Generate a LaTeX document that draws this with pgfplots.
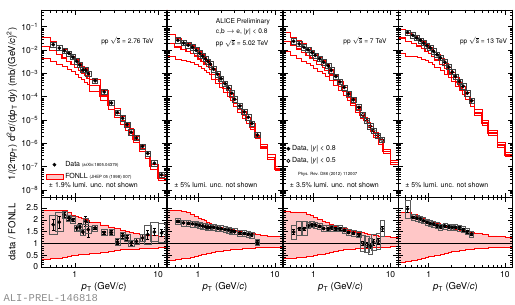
\documentclass[border=0pt]{standalone}
\usepackage{fontspec}
\setmainfont{TeX Gyre Heros}
\setmonofont{Liberation Mono}
\usepackage{pgfplots}
\usepackage{pgfplotstable}
\pgfplotsset{compat=1.18}

\newcommand\fsT{\fontsize{8.5}{9}\selectfont}
\newcommand\fsS{\fontsize{7}{8}\selectfont}
\newcommand\fsX{\fontsize{4.3}{5}\selectfont}
\newcommand\fsP{\fontsize{6.6}{7.5}\selectfont}
\newcommand\rs{$\sqrt{\mbox{s}}$}

% ---------- FONLL (left bin edge, central, upper/central, lower/central)
\pgfplotstableread{
x c u l
0.4 1.41e-2 2.40 0.33
0.5 9.5e-3 2.40 0.35
0.6 6.5e-3 2.40 0.38
0.7 4.6e-3 2.40 0.42
0.8 3.3e-3 2.30 0.45
0.9 2.45e-3 2.20 0.48
1.0 1.82e-3 2.15 0.51
1.1 1.35e-3 2.10 0.52
1.2 1.02e-3 2.05 0.54
1.3 7.9e-4 2.00 0.55
1.4 6.2e-4 1.97 0.56
1.5 3.0e-4 1.88 0.60
2.0 1.07e-4 1.78 0.64
2.5 4.3e-5 1.70 0.68
3.0 1.9e-5 1.62 0.71
3.5 9.5e-6 1.55 0.73
4.0 5.1e-6 1.50 0.75
4.5 2.95e-6 1.46 0.76
5.0 1.45e-6 1.42 0.77
6.0 6.0e-7 1.38 0.79
7.0 2.8e-7 1.35 0.80
8.0 1.0e-7 1.33 0.81
10.0 3.2e-8 1.30 0.83
12.6 3.2e-8 1.30 0.83
}\fonA
\pgfplotstableread{
x c u l
0.4 1.91e-2 2.42 0.28
0.5 1.35e-2 2.40 0.31
0.6 1.07e-2 2.36 0.35
0.7 8.7e-3 2.30 0.39
0.8 7.1e-3 2.22 0.43
0.9 5.5e-3 2.14 0.46
1.0 4.17e-3 2.07 0.49
1.1 3.24e-3 2.01 0.52
1.2 2.51e-3 1.96 0.55
1.3 1.95e-3 1.91 0.57
1.4 1.48e-3 1.87 0.59
1.5 9.1e-4 1.81 0.62
1.7 5.6e-4 1.75 0.65
1.9 3.6e-4 1.70 0.68
2.1 2.29e-4 1.65 0.70
2.4 1.48e-4 1.61 0.72
2.6 9.3e-5 1.58 0.74
2.9 5.2e-5 1.55 0.76
3.25 2.8e-5 1.51 0.77
3.75 1.58e-5 1.47 0.79
4.25 9.5e-6 1.44 0.80
4.75 5.0e-6 1.41 0.81
5.5 2.1e-6 1.37 0.82
6.5 7.1e-7 1.34 0.83
8.0 2.5e-7 1.31 0.84
10.0 7.9e-8 1.29 0.85
12.6 7.9e-8 1.29 0.85
}\fonB
\pgfplotstableread{
x c u l
0.4 2.40e-2 2.35 0.38
0.5 1.58e-2 2.33 0.39
0.6 1.12e-2 2.32 0.40
0.7 8.1e-3 2.30 0.42
0.8 6.0e-3 2.24 0.44
0.9 4.57e-3 2.17 0.47
1.0 3.47e-3 2.10 0.49
1.1 2.40e-3 2.02 0.52
1.3 1.82e-3 1.95 0.55
1.4 1.32e-3 1.88 0.58
1.6 8.5e-4 1.81 0.62
1.8 4.9e-4 1.74 0.66
2.1 2.75e-4 1.68 0.70
2.4 1.62e-4 1.62 0.73
2.7 9.8e-5 1.57 0.75
3.0 5.4e-5 1.52 0.77
3.5 2.7e-5 1.48 0.78
4.0 1.55e-5 1.45 0.79
4.5 9.5e-6 1.42 0.80
5.0 6.0e-6 1.40 0.81
5.5 3.9e-6 1.38 0.82
6.0 2.24e-6 1.35 0.83
7.0 1.12e-6 1.32 0.84
8.0 4.5e-7 1.29 0.85
10.0 1.51e-7 1.26 0.86
12.6 1.51e-7 1.26 0.86
}\fonC
\pgfplotstableread{
x c u l
0.4 3.24e-2 2.30 0.22
0.5 2.34e-2 2.30 0.24
0.6 1.91e-2 2.22 0.28
0.7 1.48e-2 2.15 0.32
0.8 1.15e-2 2.08 0.36
0.9 8.9e-3 2.02 0.40
1.0 6.9e-3 1.97 0.44
1.1 5.2e-3 1.93 0.47
1.2 3.7e-3 1.87 0.51
1.4 2.40e-3 1.80 0.55
1.6 1.58e-3 1.74 0.59
1.8 1.05e-3 1.69 0.62
2.0 6.8e-4 1.65 0.65
2.25 4.3e-4 1.60 0.68
2.5 2.75e-4 1.57 0.70
2.75 1.82e-4 1.54 0.72
3.0 1.05e-4 1.50 0.74
3.5 5.0e-5 1.46 0.76
4.0 2.0e-5 1.42 0.78
5.0 7.4e-6 1.37 0.80
6.0 2.8e-6 1.32 0.82
8.0 8.5e-7 1.28 0.84
10.0 3.2e-7 1.25 0.85
12.6 3.2e-7 1.25 0.85
}\fonD

% ---------- spectra (pT, cross section)
\pgfplotstableread{
x y
0.55 1.7e-2
0.65 1.22e-2
0.75 9.3e-3
0.85 7.2e-3
0.95 5.0e-3
1.05 3.3e-3
1.15 2.3e-3
1.25 1.4e-3
1.35 1.38e-3
1.45 9.6e-4
1.75 4.8e-4
2.25 1.6e-4
2.75 5.4e-5
3.25 2.1e-5
3.75 1.2e-5
4.25 6.3e-6
4.75 3.0e-6
5.5 1.7e-6
6.5 7.4e-7
7.5 3.7e-7
9.0 1.4e-7
11.0 4.5e-8
}\spA
\pgfplotstableread{
x y
0.55 0.0263
0.65 0.0200
0.75 0.0162
0.85 0.0132
0.95 0.00977
1.05 0.00724
1.15 0.00550
1.25 0.00417
1.35 0.00324
1.45 0.00245
1.6 0.00151
1.8 9.1e-4
2.0 5.9e-4
2.25 3.6e-4
2.5 2.34e-4
2.75 1.41e-4
3.0 7.8e-5
3.5 4.0e-5
4.0 2.24e-5
4.5 1.32e-5
5.0 7.1e-6
5.9 2.3e-6
}\spB
\pgfplotstableread{
x y
0.55 0.0236
0.65 0.0182
0.75 0.0132
0.85 0.0103
0.95 0.0079
1.05 0.0059
1.2 0.0042
1.35 0.0030
1.55 0.0021
1.7 0.00135
1.95 7.4e-4
2.2 4.3e-4
2.5 2.5e-4
2.85 1.3e-4
3.3 7.4e-5
3.9 3.5e-5
}\spC
\pgfplotstableread{
x y
4.37 1.66e-5
4.94 9.3e-6
5.46 5.4e-6
6.04 3.5e-6
6.88 2.2e-6
7.78 1.4e-6
}\spCo
\pgfplotstableread{
x y
0.53 0.057
0.62 0.043
0.70 0.0327
0.78 0.026
0.86 0.020
0.95 0.0153
1.05 0.0123
1.16 0.0088
1.29 0.0063
1.43 0.0046
1.63 0.0030
1.84 0.00186
2.04 0.00114
2.25 7.4e-4
2.54 4.5e-4
2.84 2.8e-4
3.21 1.42e-4
3.66 6.7e-5
}\spD

% ---------- ratios data/FONLL (pT, ratio, stat err)
\pgfplotstableread{
x y ey
0.75 2.21 0.10
0.85 2.07 0.08
0.95 2.00 0.08
1.05 1.65 0.12
1.15 1.69 0.15
1.25 1.48 0.12
1.35 1.93 0.22
1.45 1.58 0.30
1.75 1.65 0.05
2.25 1.46 0.07
2.75 1.46 0.08
3.25 1.06 0.10
3.75 1.32 0.10
4.25 1.23 0.10
4.75 1.01 0.10
5.5 1.08 0.12
6.5 1.23 0.15
}\raA
\pgfplotstableread{
x y ey
0.55 1.79 0.25
0.65 1.90 0.25
7.5 1.37 0.18
9.0 1.48 0.15
11.0 1.44 0.15
}\raAbig
\pgfplotstableread{
x y ey
0.55 1.93 0.03
0.65 1.87 0.03
0.75 1.85 0.03
0.85 1.83 0.03
0.95 1.80 0.03
1.05 1.77 0.03
1.15 1.74 0.03
1.25 1.71 0.03
1.35 1.69 0.03
1.45 1.68 0.03
1.6 1.68 0.03
1.8 1.65 0.03
2.0 1.62 0.03
2.25 1.59 0.03
2.5 1.57 0.03
2.75 1.53 0.04
3.0 1.50 0.04
3.5 1.44 0.04
4.0 1.42 0.05
4.5 1.39 0.05
5.0 1.36 0.06
5.9 1.04 0.08
}\raB
\pgfplotstableread{
x y ey
0.85 1.75 0.05
0.95 1.79 0.05
1.05 1.78 0.05
1.2 1.72 0.05
1.35 1.63 0.05
1.55 1.62 0.05
1.7 1.66 0.05
1.95 1.62 0.05
2.2 1.62 0.05
2.5 1.55 0.05
2.85 1.46 0.05
3.3 1.43 0.06
3.9 1.37 0.06
}\raC
\pgfplotstableread{
x y ey
0.55 1.48 0.10
0.65 1.62 0.08
0.75 1.62 0.06
}\raCbig
\pgfplotstableread{
x y ey
4.37 1.02 0.08
4.94 0.95 0.10
5.46 0.88 0.10
6.04 1.05 0.12
6.88 1.10 0.12
7.78 1.62 0.10
}\raCo
\pgfplotstableread{
x y ey
0.62 2.10 0.05
0.70 2.07 0.04
0.78 2.04 0.04
0.86 1.96 0.04
0.95 1.90 0.04
1.05 1.84 0.04
1.16 1.82 0.05
1.29 1.76 0.06
1.43 1.70 0.06
1.63 1.74 0.05
1.84 1.70 0.05
2.04 1.68 0.05
2.25 1.68 0.05
2.54 1.66 0.05
2.84 1.58 0.05
3.21 1.50 0.05
3.66 1.40 0.05
}\raD
\pgfplotstableread{
x y ey
0.53 2.46 0.12
}\raDbig

\pgfplotsset{every axis/.append style={scale only axis, xmode=log, xmin=0.4, xmax=12.6,
   tick align=inside, xtick pos=both, ytick pos=both,
   major tick length=5pt, minor tick length=2.6pt,
   every tick/.append style={black, line width=0.45pt},
   axis line style={line width=0.7pt},
   tick label style={font=\fsT},
   xtick={1,10}, minor xtick={0.4,0.5,0.6,0.7,0.8,0.9,2,3,4,5,6,7,8,9},
   axis on top, anchor=south west}}

% drawing macros (plain text substitution)
\newcommand\fonlltop[1]{%
  \addplot[fill=red!22, draw=none, const plot mark left, forget plot] table[x=x, y expr=\thisrow{c}*\thisrow{u}] {#1} \closedcycle;
  \addplot[fill=white, draw=none, const plot mark left, forget plot] table[x=x, y expr=\thisrow{c}*\thisrow{l}] {#1} \closedcycle;
  \addplot[red, line width=0.5pt, const plot mark left, forget plot] table[x=x, y expr=\thisrow{c}*\thisrow{u}] {#1};
  \addplot[red, line width=0.5pt, const plot mark left, forget plot] table[x=x, y expr=\thisrow{c}*\thisrow{l}] {#1};
  \addplot[red, line width=1.3pt, const plot mark left, forget plot] table[x=x, y=c] {#1};}
\newcommand\fonllrat[1]{%
  \addplot[fill=red!22, draw=none, const plot mark left, forget plot] table[x=x, y=u] {#1} \closedcycle;
  \addplot[fill=white, draw=none, const plot mark left, forget plot] table[x=x, y=l] {#1} \closedcycle;
  \addplot[red, line width=0.5pt, const plot mark left, forget plot] table[x=x, y=u] {#1};
  \addplot[red, line width=0.5pt, const plot mark left, forget plot] table[x=x, y=l] {#1};
  \addplot[black, line width=0.6pt, forget plot] coordinates {(0.3,1) (14,1)};}
\newcommand\spec[1]{%
  \addplot[only marks, mark=square, mark size=1pt, draw=black!75, mark options={xscale=2.6, yscale=2.6, line width=0.5pt}, forget plot] table[x=x,y=y] {#1};
  \addplot[only marks, mark=*, mark size=1.7pt, black, forget plot] table[x=x,y=y] {#1};}
\newcommand\rat[3]{%
  \addplot[only marks, mark=square, mark size=1pt, draw=black!65, mark options={xscale=#2, yscale=#3, line width=0.5pt}, forget plot] table[x=x,y=y] {#1};
  \addplot[only marks, mark=*, mark size=1.7pt, black, forget plot, error bars/.cd, y dir=both, y explicit, error bar style={line width=0.6pt}] table[x=x,y=y,y error=ey] {#1};}

\begin{document}
\begin{tikzpicture}
\useasboundingbox (0,0) rectangle (515pt,305pt);

% ================= top row
\begin{axis}[at={(41.7pt,107.3pt)}, width=124.8pt, height=187.7pt,
  ymode=log, ymin=4.7e-9, ymax=0.52, ytick={1e-8,1e-7,1e-6,1e-5,1e-4,1e-3,1e-2,1e-1},
  minor ytick={5e-9,6e-9,7e-9,8e-9,9e-9,2e-8,3e-8,4e-8,5e-8,6e-8,7e-8,8e-8,9e-8,2e-7,3e-7,4e-7,5e-7,6e-7,7e-7,8e-7,9e-7,2e-6,3e-6,4e-6,5e-6,6e-6,7e-6,8e-6,9e-6,2e-5,3e-5,4e-5,5e-5,6e-5,7e-5,8e-5,9e-5,2e-4,3e-4,4e-4,5e-4,6e-4,7e-4,8e-4,9e-4,2e-3,3e-3,4e-3,5e-3,6e-3,7e-3,8e-3,9e-3,2e-2,3e-2,4e-2,5e-2,6e-2,7e-2,8e-2,9e-2,2e-1,3e-1,4e-1,5e-1},
  xticklabels={},
  yticklabels={10\textsuperscript{−8},10\textsuperscript{−7},10\textsuperscript{−6},10\textsuperscript{−5},10\textsuperscript{−4},10\textsuperscript{−3},10\textsuperscript{−2},10\textsuperscript{−1}},
  legend cell align=left,
  legend style={at={(rel axis cs:0.03,0.205)}, anchor=north west, draw=none, fill=none,
    font=\fsS, inner sep=0pt, row sep=1.5pt}]
\fonlltop{\fonA}
\spec{\spA}
\addlegendimage{only marks, mark=*, mark size=1.7pt, black}
\addlegendentry{Data {\fsX(arXiv:1805.04379)}}
\addlegendimage{area legend, draw=red, fill=red!22, line width=0.6pt}
\addlegendentry{FONLL {\fsX(JHEP 05 (1998) 007)}}
\node[font=\fsP] at (rel axis cs:0.687,0.835) {pp \rs{} = 2.76 TeV};
\node[font=\fsS, anchor=west] at (rel axis cs:0.03,0.066) {± 1.9\% lumi. unc. not shown};
\end{axis}

\begin{axis}[at={(167.3pt,107.3pt)}, width=115.4pt, height=187.7pt,
  ymode=log, ymin=4.7e-9, ymax=0.52, ytick={1e-8,1e-7,1e-6,1e-5,1e-4,1e-3,1e-2,1e-1},
  minor ytick={5e-9,6e-9,7e-9,8e-9,9e-9,2e-8,3e-8,4e-8,5e-8,6e-8,7e-8,8e-8,9e-8,2e-7,3e-7,4e-7,5e-7,6e-7,7e-7,8e-7,9e-7,2e-6,3e-6,4e-6,5e-6,6e-6,7e-6,8e-6,9e-6,2e-5,3e-5,4e-5,5e-5,6e-5,7e-5,8e-5,9e-5,2e-4,3e-4,4e-4,5e-4,6e-4,7e-4,8e-4,9e-4,2e-3,3e-3,4e-3,5e-3,6e-3,7e-3,8e-3,9e-3,2e-2,3e-2,4e-2,5e-2,6e-2,7e-2,8e-2,9e-2,2e-1,3e-1,4e-1,5e-1},
  xticklabels={}, yticklabels={}]
\fonlltop{\fonB}
\spec{\spB}
\node[font=\fsP, anchor=west, inner sep=0pt] at (rel axis cs:0.42,0.94) {ALICE Preliminary};
\node[font=\fsP, anchor=west, inner sep=0pt] at (rel axis cs:0.42,0.882) {c,b $\rightarrow$ e, |\textit{y}| < 0.8};
\node[font=\fsP, anchor=west, inner sep=0pt] at (rel axis cs:0.42,0.823) {pp \rs{} = 5.02 TeV};
\node[font=\fsS, anchor=west] at (rel axis cs:0.03,0.066) {± 5\% lumi. unc. not shown};
\end{axis}

\begin{axis}[at={(283pt,107.3pt)}, width=115.2pt, height=187.7pt,
  ymode=log, ymin=4.7e-9, ymax=0.52, ytick={1e-8,1e-7,1e-6,1e-5,1e-4,1e-3,1e-2,1e-1},
  minor ytick={5e-9,6e-9,7e-9,8e-9,9e-9,2e-8,3e-8,4e-8,5e-8,6e-8,7e-8,8e-8,9e-8,2e-7,3e-7,4e-7,5e-7,6e-7,7e-7,8e-7,9e-7,2e-6,3e-6,4e-6,5e-6,6e-6,7e-6,8e-6,9e-6,2e-5,3e-5,4e-5,5e-5,6e-5,7e-5,8e-5,9e-5,2e-4,3e-4,4e-4,5e-4,6e-4,7e-4,8e-4,9e-4,2e-3,3e-3,4e-3,5e-3,6e-3,7e-3,8e-3,9e-3,2e-2,3e-2,4e-2,5e-2,6e-2,7e-2,8e-2,9e-2,2e-1,3e-1,4e-1,5e-1},
  xticklabels={}, yticklabels={},
  legend cell align=left,
  legend style={at={(rel axis cs:0.03,0.29)}, anchor=north west, draw=none, fill=none,
    font=\fsS, inner sep=0pt, row sep=1.5pt}]
\fonlltop{\fonC}
\spec{\spC}
\addplot[only marks, mark=square, mark size=1pt, draw=black!75, mark options={xscale=2.6, yscale=2.6, line width=0.5pt}, forget plot] table[x=x,y=y] {\spCo};
\addplot[only marks, mark=o, mark size=1.6pt, black, mark options={fill=white, line width=0.6pt}, forget plot] table[x=x,y=y] {\spCo};
\addlegendimage{only marks, mark=*, mark size=1.7pt, black}
\addlegendentry{Data, |\textit{y}| < 0.8}
\addlegendimage{only marks, mark=o, mark size=1.6pt, black, mark options={line width=0.6pt}}
\addlegendentry{Data, |\textit{y}| < 0.5}
\node[font=\fsP] at (rel axis cs:0.712,0.835) {pp \rs{} = 7 TeV};
\node[font=\fsX, anchor=west] at (rel axis cs:0.1,0.122) {Phys. Rev. D86 (2012) 112007};
\node[font=\fsS, anchor=west] at (rel axis cs:0.03,0.066) {± 3.5\% lumi. unc. not shown};
\end{axis}

\begin{axis}[at={(398.3pt,107.3pt)}, width=114.2pt, height=187.7pt,
  ymode=log, ymin=4.7e-9, ymax=0.52, ytick={1e-8,1e-7,1e-6,1e-5,1e-4,1e-3,1e-2,1e-1},
  minor ytick={5e-9,6e-9,7e-9,8e-9,9e-9,2e-8,3e-8,4e-8,5e-8,6e-8,7e-8,8e-8,9e-8,2e-7,3e-7,4e-7,5e-7,6e-7,7e-7,8e-7,9e-7,2e-6,3e-6,4e-6,5e-6,6e-6,7e-6,8e-6,9e-6,2e-5,3e-5,4e-5,5e-5,6e-5,7e-5,8e-5,9e-5,2e-4,3e-4,4e-4,5e-4,6e-4,7e-4,8e-4,9e-4,2e-3,3e-3,4e-3,5e-3,6e-3,7e-3,8e-3,9e-3,2e-2,3e-2,4e-2,5e-2,6e-2,7e-2,8e-2,9e-2,2e-1,3e-1,4e-1,5e-1},
  xticklabels={}, yticklabels={}]
\fonlltop{\fonD}
\spec{\spD}
\node[font=\fsP] at (rel axis cs:0.746,0.835) {pp \rs{} = 13 TeV};
\node[font=\fsS, anchor=west] at (rel axis cs:0.03,0.066) {± 5\% lumi. unc. not shown};
\end{axis}

% ================= bottom row
\begin{axis}[at={(41.7pt,37.3pt)}, width=124.8pt, height=70.4pt,
  ymin=-0.03, ymax=2.95, ytick={0,0.5,1,1.5,2,2.5}, minor y tick num=4,
  xticklabels={1,10}, yticklabels={0,0.5,1,1.5,2,2.5},
  xlabel={\textit{p}\textsubscript{T} (GeV/\textit{c})}, xlabel style={font=\fontsize{9.5}{10}\selectfont, yshift=2pt}]
\fonllrat{\fonA}
\rat{\raA}{2.6}{3.2}
\rat{\raAbig}{3.6}{9.5}
\end{axis}

\begin{axis}[at={(167.3pt,37.3pt)}, width=115.4pt, height=70.4pt,
  ymin=-0.03, ymax=2.95, ytick={0,0.5,1,1.5,2,2.5}, minor y tick num=4,
  xticklabels={1,10}, yticklabels={},
  xlabel={\textit{p}\textsubscript{T} (GeV/\textit{c})}, xlabel style={font=\fontsize{9.5}{10}\selectfont, yshift=2pt}]
\fonllrat{\fonB}
\rat{\raB}{2.3}{3}
\end{axis}

\begin{axis}[at={(283pt,37.3pt)}, width=115.2pt, height=70.4pt,
  ymin=-0.03, ymax=2.95, ytick={0,0.5,1,1.5,2,2.5}, minor y tick num=4,
  xticklabels={1,10}, yticklabels={},
  xlabel={\textit{p}\textsubscript{T} (GeV/\textit{c})}, xlabel style={font=\fontsize{9.5}{10}\selectfont, yshift=2pt}]
\fonllrat{\fonC}
\rat{\raC}{2.3}{3}
\rat{\raCbig}{2.8}{7}
\addplot[only marks, mark=square, mark size=1pt, draw=black!65, mark options={xscale=2.2, yscale=8, line width=0.5pt}, forget plot] table[x=x,y=y] {\raCo};
\addplot[only marks, mark=o, mark size=1.6pt, black, mark options={fill=white, line width=0.6pt}, forget plot, error bars/.cd, y dir=both, y explicit, error bar style={line width=0.6pt}] table[x=x,y=y,y error=ey] {\raCo};
\end{axis}

\begin{axis}[at={(398.3pt,37.3pt)}, width=114.2pt, height=70.4pt,
  ymin=-0.03, ymax=2.95, ytick={0,0.5,1,1.5,2,2.5}, minor y tick num=4,
  xticklabels={1,10}, yticklabels={},
  xlabel={\textit{p}\textsubscript{T} (GeV/\textit{c})}, xlabel style={font=\fontsize{9.5}{10}\selectfont, yshift=2pt}]
\fonllrat{\fonD}
\rat{\raD}{2}{3}
\rat{\raDbig}{2.8}{9}
\end{axis}

% ================= axis titles
\node[rotate=90, font=\fontsize{9.5}{10}\selectfont] at (12pt,201pt)
  {1/(2π\textit{p}\textsubscript{T}) d\textsuperscript{2}σ/(d\textit{p}\textsubscript{T} d\textit{y}) (mb/(GeV/\textit{c})\textsuperscript{2})};
\node[rotate=90, font=\fontsize{9.5}{10}\selectfont] at (12pt,73pt) {data / FONLL};
\node[anchor=west, font=\fontsize{10.5}{11}\selectfont\ttfamily, text=black!45] at (0pt,6.5pt) {ALI-PREL-146818};
\end{tikzpicture}
\end{document}
